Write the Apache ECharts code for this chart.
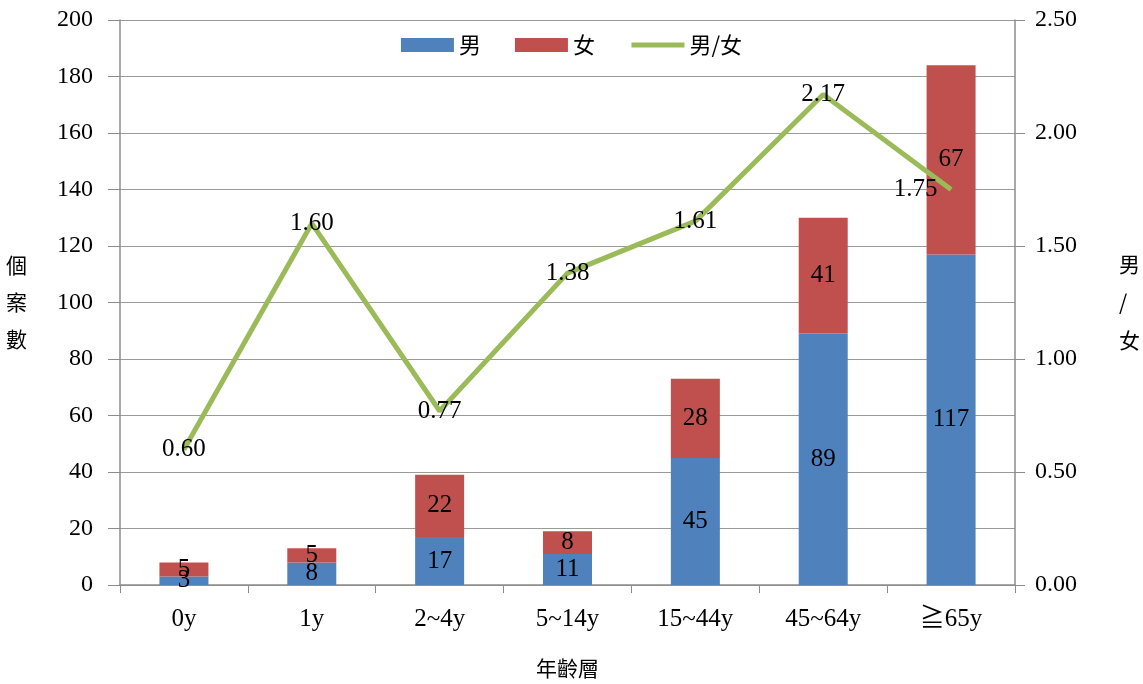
<!DOCTYPE html>
<html>
<head>
<meta charset="utf-8">
<script src="https://cdn.jsdelivr.net/npm/echarts@6/dist/echarts.min.js"></script>
<style>
  html, body { margin: 0; padding: 0; background: #fff; }
  #chart { width: 1143px; height: 684px; }
</style>
</head>
<body>
<div id="chart"></div>
<script>
// Age groups and case counts by sex, with the male/female ratio
const categories = ['0y', '1y', '2~4y', '5~14y', '15~44y', '45~64y', '≧65y'];
const male = [3, 8, 17, 11, 45, 89, 117];
const female = [5, 5, 22, 8, 28, 41, 67];
const ratio = [0.60, 1.60, 0.77, 1.38, 1.61, 2.17, 1.75];
const countTicks = [0, 20, 40, 60, 80, 100, 120, 140, 160, 180, 200];
const ratioTicks = [0, 0.5, 1, 1.5, 2, 2.5];

const serif = '"Liberation Serif", "Times New Roman", serif';
const cjk = '"Noto Sans CJK TC", "Noto Sans CJK SC", sans-serif';
const textFont = serif + ', ' + cjk;
const axisGray = '#8c8c8c';
const numSize = 24;
const ratioColor = '#9BBB59';

const chart = echarts.init(document.getElementById('chart'));
chart.setOption({
  animation: false,
  backgroundColor: '#fff',
  textStyle: { fontFamily: textFont, color: '#000' },
  legend: {
    top: 29,
    left: 'center',
    itemWidth: 53,
    itemHeight: 14,
    itemGap: 34,
    textStyle: { fontFamily: cjk, fontSize: 22, color: '#000' },
    data: [
      { name: '男', icon: 'rect' },
      { name: '女', icon: 'rect' },
      { name: '男/女', lineStyle: { color: ratioColor, width: 5 } }
    ]
  },
  grid: { left: 120, right: 123, top: 20, bottom: 95 },
  xAxis: {
    type: 'category',
    data: categories,
    name: '年齡層',
    nameLocation: 'middle',
    nameGap: 73,
    nameTextStyle: { fontFamily: cjk, fontSize: 21, color: '#000' },
    axisLine: { lineStyle: { color: axisGray, width: 1.5 } },
    axisTick: { show: true, length: 8, alignWithLabel: false, lineStyle: { color: axisGray } },
    axisLabel: { fontFamily: textFont, fontSize: 25, color: '#000', margin: 22 }
  },
  yAxis: [
    {
      type: 'value',
      min: countTicks[0],
      max: countTicks[countTicks.length - 1],
      interval: countTicks[1] - countTicks[0],
      name: '個\n案\n數',
      nameLocation: 'middle',
      nameRotate: 0,
      nameGap: 93,
      nameTextStyle: { fontFamily: cjk, fontSize: 21, lineHeight: 37, color: '#000' },
      axisLine: { show: true, lineStyle: { color: axisGray, width: 1.5 } },
      axisTick: { show: true, length: 12, lineStyle: { color: axisGray } },
      axisLabel: { fontFamily: serif, fontSize: numSize, color: '#000', margin: 27 },
      splitLine: { show: true, lineStyle: { color: '#9a9a9a', width: 1.2 } }
    },
    {
      type: 'value',
      min: ratioTicks[0],
      max: ratioTicks[ratioTicks.length - 1],
      interval: ratioTicks[1] - ratioTicks[0],
      name: '男\n/\n女',
      nameLocation: 'middle',
      nameRotate: 0,
      nameGap: 104,
      nameTextStyle: { fontFamily: cjk, fontSize: 21, lineHeight: 38, color: '#000' },
      axisLine: { show: true, lineStyle: { color: axisGray, width: 1.5 } },
      axisTick: { show: true, length: 10, lineStyle: { color: axisGray } },
      axisLabel: {
        fontFamily: serif, fontSize: numSize, color: '#000', margin: 20,
        formatter: v => v.toFixed(2)
      },
      splitLine: { show: false }
    }
  ],
  series: [
    {
      name: '男',
      type: 'bar',
      stack: 'cases',
      barWidth: 49,
      itemStyle: { color: '#4F81BD' },
      label: { show: true, position: 'inside', fontFamily: serif, fontSize: 25, color: '#000' },
      data: male
    },
    {
      name: '女',
      type: 'bar',
      stack: 'cases',
      barWidth: 49,
      itemStyle: { color: '#C0504D' },
      label: { show: true, position: 'inside', fontFamily: serif, fontSize: 25, color: '#000' },
      data: female
    },
    {
      name: '男/女',
      type: 'line',
      yAxisIndex: 1,
      symbol: 'circle',
      symbolSize: 1,
      showSymbol: true,
      lineStyle: { color: ratioColor, width: 5 },
      itemStyle: { color: 'rgba(0,0,0,0)' },
      label: {
        show: true,
        position: 'inside',
        offset: [0, 3],
        fontFamily: serif,
        fontSize: 25,
        color: '#000',
        formatter: p => p.value.toFixed(2)
      },
      labelLayout: { hideOverlap: false },
      z: 3,
      data: ratio.map((v, i) => i === ratio.length - 1
        ? { value: v, label: { position: 'left', distance: 13, offset: [0, 1] } }
        : v)
    }
  ]
});
</script>
</body>
</html>
